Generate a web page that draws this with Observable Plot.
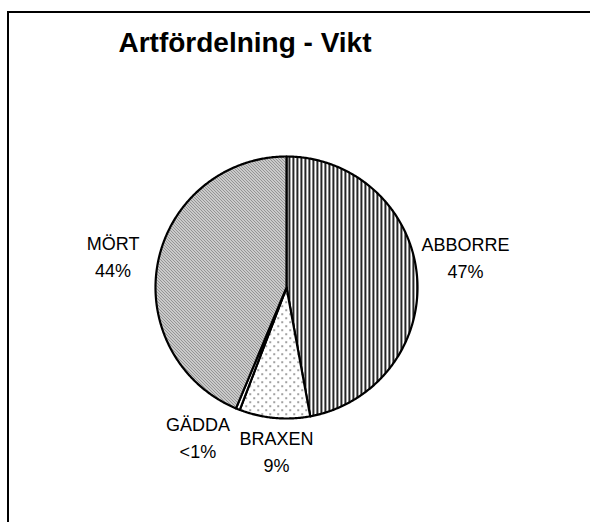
<!DOCTYPE html>
<html><head><meta charset="utf-8">
<script src="https://cdn.jsdelivr.net/npm/d3@7"></script>
<script src="https://cdn.jsdelivr.net/npm/@observablehq/plot@0.6"></script>
<style>
html,body{margin:0;padding:0;background:#fff;}
#wrap{position:relative;width:590px;height:522px;overflow:hidden;font-family:"Liberation Sans",Arial,sans-serif;background:#fff;}
#chart{position:absolute;left:0;top:0;}
#frame{position:absolute;left:7px;top:11px;width:700px;height:700px;border-left:2px solid #000;border-top:2px solid #000;}
#title{position:absolute;left:0;width:490px;top:29px;text-align:center;font-weight:bold;font-size:28px;line-height:28px;color:#000;}
</style></head><body>
<div id="wrap"><div id="chart"></div><div id="frame"></div><div id="title">Artfördelning - Vikt</div></div>
<script>
// data
const species = ["ABBORRE", "BRAXEN", "GÄDDA", "MÖRT"];
const shares = [47.1, 8.7, 0.5, 43.7];

// styling (not data)
const patternOf = {"ABBORRE": "url(#p-vert)", "BRAXEN": "url(#p-dots)", "GÄDDA": "url(#p-none)", "MÖRT": "url(#p-diag)"};
const labelNudgePx = {"ABBORRE": [3, -16], "MÖRT": [0, 2], "BRAXEN": [6, -14], "GÄDDA": [-23, -16]};

const W = 590, H = 522, R = 131, CX = 286, CY = 287;
const rows = species.map((name, i) => ({name, share: shares[i]}));
const arcs = d3.pie().sort(null).value(d => d.share)(rows);

// slice outlines from the pie layout
const pts = [];
for (const a of arcs) {
  const name = a.data.name;
  pts.push({name, x: 0, y: 0});
  const n = Math.max(2, Math.ceil((a.endAngle - a.startAngle) / (Math.PI / 360)));
  for (let k = 0; k <= n; k++) {
    const t = a.startAngle + (a.endAngle - a.startAngle) * k / n;
    pts.push({name, x: Math.sin(t), y: Math.cos(t)});
  }
  pts.push({name, x: 0, y: 0});
}

const fmt = v => v < 1 ? "<1%" : Math.round(v) + "%";
const LR = 1.35;
const labels = arcs.map(a => {
  const m = (a.startAngle + a.endAngle) / 2;
  const nd = labelNudgePx[a.data.name];
  return {
    text: a.data.name + "\n" + fmt(a.data.share),
    x: LR * Math.sin(m) + nd[0] / R,
    y: LR * Math.cos(m) - nd[1] / R
  };
});

const svg = Plot.plot({
  width: W, height: H,
  margin: 0,
  x: {domain: [-CX / R, (W - CX) / R], axis: null},
  y: {domain: [-(H - CY) / R, CY / R], axis: null},
  color: {type: "identity"},
  style: {fontFamily: "'Liberation Sans', Arial, sans-serif", background: "transparent", color: "#000"},
  marks: [
    Plot.line(pts, {x: "x", y: "y", z: "name", fill: d => patternOf[d.name], stroke: "#000", strokeWidth: 2.2, strokeLinejoin: "round"}),
    Plot.text(labels, {x: "x", y: "y", text: "text", fontSize: 18, lineHeight: 1.5, fill: "#000", textAnchor: "middle"})
  ]
});

const defs = d3.select(svg).insert("defs", ":first-child");
const pv = defs.append("pattern").attr("id", "p-vert").attr("patternUnits", "userSpaceOnUse").attr("width", 4).attr("height", 4);
pv.append("rect").attr("width", 4).attr("height", 4).attr("fill", "#fff");
pv.append("rect").attr("x", 0).attr("width", 1.7).attr("height", 4).attr("fill", "#000");
const pd = defs.append("pattern").attr("id", "p-diag").attr("patternUnits", "userSpaceOnUse").attr("width", 3).attr("height", 3);
pd.append("rect").attr("width", 3).attr("height", 3).attr("fill", "#fff");
pd.append("path").attr("d", "M-1,-1L4,4M-1,2L1,4M2,-1L4,1").attr("stroke", "#111").attr("stroke-width", 0.9);
const pt = defs.append("pattern").attr("id", "p-dots").attr("patternUnits", "userSpaceOnUse").attr("width", 8).attr("height", 8);
pt.append("rect").attr("width", 8).attr("height", 8).attr("fill", "#fff");
pt.append("rect").attr("x", 1).attr("y", 1).attr("width", 1.3).attr("height", 1.3).attr("fill", "#222");
pt.append("rect").attr("x", 5).attr("y", 5).attr("width", 1.3).attr("height", 1.3).attr("fill", "#222");
const pn = defs.append("pattern").attr("id", "p-none").attr("patternUnits", "userSpaceOnUse").attr("width", 4).attr("height", 4);
pn.append("rect").attr("width", 4).attr("height", 4).attr("fill", "#fff");

document.getElementById("chart").appendChild(svg);
</script>
</body></html>
